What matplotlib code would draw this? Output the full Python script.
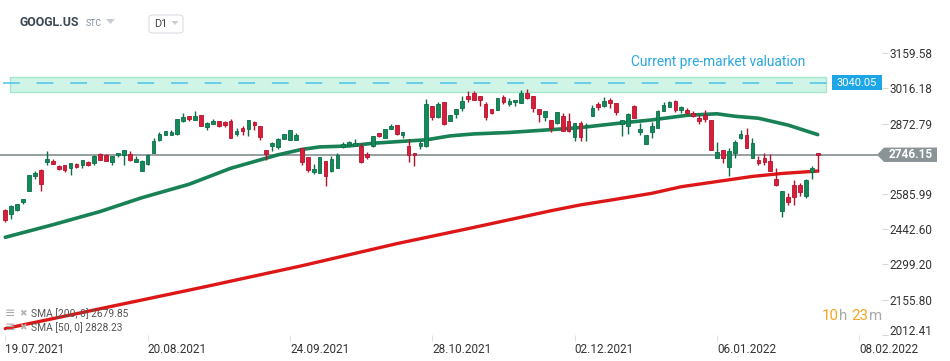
import matplotlib
matplotlib.use('Agg')
import matplotlib.pyplot as plt
import matplotlib.transforms as mtransforms
from matplotlib.patches import Rectangle, Polygon, FancyBboxPatch

plt.rcParams['font.family'] = ['Roboto', 'DejaVu Sans']

# ---------------- data ----------------
symbol = "GOOGL.US"
market = "STC"
interval = "D1"

opens = [2522.0, 2504.5, 2519.2, 2551.7, 2600.5, 2661.6, 2684.8, 2718.5, 2721.4, 2701.0,
         2703.9, 2694.1, 2709.2, 2706.3, 2717.3, 2714.5, 2748.7, 2744.6, 2718.5, 2745.8,
         2744.6, 2748.7, 2718.5, 2681.9, 2710.4, 2753.9, 2806.8, 2828.4, 2828.4, 2830.0,
         2884.2, 2903.3, 2889.4, 2907.3, 2858.5, 2873.2, 2882.9, 2881.3, 2885.4, 2831.3,
         2855.7, 2850.4, 2881.3, 2863.8, 2766.2, 2782.4, 2777.1, 2810.9, 2806.8, 2806.8,
         2772.3, 2737.7, 2676.6, 2673.8, 2721.4, 2678.7, 2694.1, 2777.1, 2786.5, 2781.2,
         2782.4, 2749.9, 2783.6, 2834.5, 2813.8, 2852.8, 2867.1, 2827.2, 2782.4, 2753.1,
         2783.6, 2780.4, 2945.2, 2901.6, 2960.2, 2885.4, 2912.6, 2938.3, 2985.9, 2996.9,
         2985.9, 2953.3, 2933.0, 2930.1, 2980.6, 2954.5, 2960.2, 2958.6, 2999.3, 2985.9,
         2931.8, 2901.6, 2888.2, 2874.0, 2903.3, 2885.4, 2817.8, 2877.2, 2861.0, 2905.7,
         2953.3, 2945.2, 2969.6, 2956.2, 2872.8, 2865.0, 2946.0, 2840.6, 2789.8, 2838.2,
         2854.4, 2924.8, 2942.3, 2965.5, 2928.9, 2928.9, 2915.5, 2897.6, 2908.6, 2888.2,
         2734.8, 2764.9, 2698.2, 2752.7, 2816.2, 2827.2, 2734.8, 2725.5, 2734.8, 2721.4,
         2648.1, 2515.1, 2572.1, 2623.7, 2623.7, 2580.2, 2675.4, 2752.7]
highs = [2526.1, 2542.4, 2546.4, 2566.8, 2665.6, 2679.5, 2686.8, 2762.1, 2729.5, 2705.1,
         2705.1, 2714.5, 2713.3, 2726.7, 2722.6, 2744.6, 2753.9, 2749.9, 2743.0, 2753.9,
         2766.2, 2762.1, 2743.0, 2724.2, 2751.1, 2815.0, 2839.4, 2843.5, 2846.3, 2892.3,
         2915.5, 2904.5, 2924.8, 2908.6, 2878.9, 2891.1, 2884.2, 2885.4, 2892.3, 2854.4,
         2862.6, 2889.4, 2884.2, 2865.0, 2767.4, 2799.9, 2813.8, 2831.3, 2848.7, 2835.3,
         2774.3, 2738.9, 2709.2, 2738.9, 2722.6, 2741.7, 2753.9, 2798.7, 2802.8, 2810.1,
         2792.6, 2759.2, 2824.3, 2836.5, 2852.8, 2872.8, 2867.9, 2839.4, 2809.7, 2753.9,
         2802.8, 2973.7, 2946.4, 2960.6, 2961.5, 2909.8, 2934.2, 2985.9, 3007.4, 3007.4,
         2987.1, 2960.2, 2934.2, 2977.7, 2989.9, 2976.5, 2970.8, 3010.3, 3014.4, 2987.1,
         2933.0, 2926.1, 2889.4, 2922.0, 2915.5, 2915.5, 2876.0, 2884.2, 2874.8, 2949.3,
         2960.2, 2980.6, 2976.5, 2957.4, 2888.2, 2915.5, 2950.5, 2874.8, 2828.4, 2878.9,
         2928.9, 2962.7, 2966.8, 2969.6, 2946.4, 2935.8, 2926.1, 2908.6, 2928.9, 2889.4,
         2797.5, 2766.2, 2773.1, 2806.8, 2847.5, 2856.9, 2813.8, 2743.0, 2755.2, 2748.7,
         2691.7, 2599.3, 2590.0, 2644.1, 2633.1, 2648.1, 2702.3, 2753.9]
lows = [2470.3, 2485.4, 2517.9, 2547.6, 2596.5, 2646.9, 2600.5, 2706.3, 2709.2, 2684.8,
        2677.9, 2665.6, 2692.9, 2694.1, 2701.0, 2706.3, 2725.5, 2721.4, 2706.3, 2738.9,
        2706.3, 2722.6, 2717.3, 2680.7, 2706.3, 2752.7, 2804.0, 2827.2, 2827.2, 2828.4,
        2881.3, 2885.4, 2888.2, 2863.8, 2848.7, 2871.9, 2861.0, 2861.0, 2815.0, 2824.3,
        2827.2, 2824.3, 2847.5, 2806.8, 2725.5, 2762.1, 2771.4, 2809.7, 2805.6, 2805.6,
        2705.1, 2677.9, 2667.3, 2672.6, 2620.5, 2677.4, 2691.7, 2773.1, 2785.3, 2780.4,
        2714.5, 2730.3, 2776.3, 2817.0, 2812.9, 2851.6, 2828.0, 2813.8, 2718.5, 2701.9,
        2768.2, 2779.6, 2888.2, 2894.3, 2867.9, 2884.2, 2895.1, 2926.1, 2962.7, 2969.6,
        2946.4, 2888.2, 2913.9, 2928.9, 2952.1, 2946.4, 2946.4, 2957.4, 2974.9, 2922.0,
        2881.3, 2885.4, 2840.6, 2872.8, 2843.5, 2840.6, 2803.6, 2804.0, 2804.0, 2904.5,
        2928.9, 2942.3, 2935.8, 2908.6, 2823.9, 2832.5, 2894.3, 2827.2, 2788.5, 2813.8,
        2853.6, 2923.6, 2941.1, 2922.0, 2915.5, 2911.4, 2901.6, 2870.7, 2878.9, 2764.9,
        2733.6, 2714.5, 2661.6, 2732.4, 2810.9, 2774.3, 2733.6, 2705.1, 2705.1, 2680.7,
        2620.9, 2490.7, 2542.4, 2539.5, 2580.2, 2569.6, 2646.9, 2674.6]
closes = [2478.5, 2535.4, 2545.2, 2565.5, 2663.2, 2672.6, 2629.0, 2729.5, 2710.4, 2688.8,
          2686.0, 2712.0, 2697.0, 2724.2, 2705.1, 2743.0, 2726.7, 2722.6, 2741.7, 2752.7,
          2764.9, 2724.2, 2729.5, 2722.6, 2745.8, 2802.8, 2832.5, 2842.2, 2839.4, 2891.1,
          2899.2, 2892.3, 2904.5, 2865.0, 2874.8, 2884.2, 2865.0, 2866.7, 2816.2, 2843.5,
          2842.2, 2888.2, 2869.1, 2820.3, 2749.9, 2795.9, 2812.1, 2830.0, 2847.5, 2828.4,
          2718.5, 2684.8, 2688.8, 2737.7, 2661.6, 2729.5, 2743.8, 2791.4, 2796.7, 2793.4,
          2718.5, 2738.9, 2823.1, 2823.9, 2851.6, 2864.6, 2832.5, 2838.2, 2745.8, 2745.8,
          2795.9, 2953.3, 2901.6, 2953.3, 2871.9, 2908.6, 2933.0, 2965.5, 2973.7, 2970.8,
          2969.6, 2901.6, 2915.5, 2976.5, 2962.7, 2966.8, 2969.6, 2999.3, 2976.5, 2938.3,
          2911.4, 2924.8, 2854.4, 2920.8, 2844.7, 2844.7, 2874.8, 2817.8, 2867.9, 2935.8,
          2942.3, 2965.5, 2956.2, 2922.0, 2887.0, 2911.4, 2895.1, 2850.8, 2827.2, 2865.0,
          2924.8, 2949.3, 2962.7, 2928.9, 2942.3, 2917.9, 2904.5, 2884.2, 2892.3, 2766.2,
          2759.2, 2734.8, 2762.1, 2797.5, 2830.0, 2775.5, 2793.4, 2712.0, 2718.5, 2681.9,
          2623.7, 2596.5, 2551.7, 2572.1, 2594.0, 2644.1, 2691.7, 2746.15]

sma50_idx = [0, 8, 16, 23, 31, 38, 46, 50, 53, 58, 62, 67, 71, 75, 79, 85, 93, 97,
             104, 109, 115, 120, 123, 127, 132, 137]
sma50_val = [2410, 2461, 2515, 2571, 2626, 2691, 2746, 2768, 2778, 2782, 2793, 2801, 2807,
             2823, 2831, 2837, 2850, 2857, 2876, 2888, 2907, 2913, 2903, 2895, 2867, 2828.23]
sma200_idx = [0, 16, 33, 50, 66, 78, 92, 97, 103, 109, 114, 120, 126, 131, 137]
sma200_val = [2038, 2119, 2205, 2294, 2384, 2445, 2518, 2542, 2565, 2589, 2616, 2637,
              2658, 2670, 2679.85]

sma200_label = "SMA [200, 0] 2679.85"
sma50_label = "SMA [50, 0] 2828.23"

last_price = 2746.15
premarket_price = 3040.05
premarket_zone = (3000.9, 3061.9)
premarket_text = "Current pre-market valuation"

ytick_vals = [2012.41, 2155.80, 2299.20, 2442.60, 2585.99, 2872.79, 3016.18, 3159.58]
xtick_idx = [0, 24, 48, 72, 96, 120, 144]
xtick_labels = ["19.07.2021", "20.08.2021", "24.09.2021", "28.10.2021",
                "02.12.2021", "06.01.2022", "08.02.2022"]

timer_parts = [("10", "#f5a623"), ("h", "#a9a9a9"), ("23", "#f5a623"), ("m", "#a9a9a9")]

# ---------------- figure ----------------
W, H = 950, 361
fig = plt.figure(figsize=(W / 100, H / 100), dpi=100)
fig.patch.set_facecolor('white')

def fx(px):
    return px / W

def fy(py):
    return 1 - py / H

ax_right = 882
ax_bottom = 335
ax = fig.add_axes([0, fy(ax_bottom), fx(ax_right), ax_bottom / H])
ax.set_xlim(-0.894, 147.84)
ax.set_ylim(2012.0, 3376.5)
for s in ax.spines.values():
    s.set_visible(False)
ax.set_facecolor('none')

GREEN = '#138a5a'
GREEN_EDGE = '#0c6e47'
RED = '#d81e3a'
RED_EDGE = '#b5132c'

# pre-market zone
zone_w_end = (826 - 5.3) / 5.93
zone_w_start = (10 - 5.3) / 5.93
ax.add_patch(Rectangle((zone_w_start, premarket_zone[0]), zone_w_end - zone_w_start,
                       premarket_zone[1] - premarket_zone[0],
                       facecolor='#d0f4e6', edgecolor='#a3e6cc', lw=1.0, zorder=1))
ax.axhline(premarket_price, xmin=fx(3) / fx(ax_right), xmax=832 / ax_right,
           color='#4cc3ea', lw=1.1, dashes=(11, 11), zorder=2)
ax.text(zone_w_end - 3.5, 3124, premarket_text, color='#2ba8e0', fontsize=9.9,
        ha='right', va='center', zorder=5)

# last price line
ax.axhline(last_price, xmin=0, xmax=877 / ax_right, color='#8d9699', lw=1.3, zorder=2)

# moving averages
ax.plot(sma50_idx, sma50_val, color='#0b7a4c', lw=2.6, solid_capstyle='round', zorder=3, alpha=0.95)
ax.plot(sma200_idx, sma200_val, color='#dc0a0a', lw=2.4, solid_capstyle='round', zorder=3, alpha=0.95)

# candles
for i, (o, h, l, c) in enumerate(zip(opens, highs, lows, closes)):
    up = c >= o
    col = GREEN if up else RED
    ec = GREEN_EDGE if up else RED_EDGE
    ax.vlines(i, l, h, color=ec, lw=1.0, zorder=4)
    lo, hi = min(o, c), max(o, c)
    if hi - lo < 4:
        mid = (hi + lo) / 2
        lo, hi = mid - 2, mid + 2
    ax.add_patch(Rectangle((i - 0.31, lo), 0.62, hi - lo, facecolor=col,
                           edgecolor=ec, lw=0.6, zorder=5))

# y axis on right
ax.yaxis.tick_right()
ax.set_yticks(ytick_vals)
ax.set_yticklabels([f"{v:.2f}" for v in ytick_vals])
ax.tick_params(axis='y', length=4, width=0.8, color='#d8d8d8', labelsize=8.5,
               labelcolor='#333333', pad=1.5)
ylabs = ax.get_yticklabels()
ylabs[0].set_transform(ylabs[0].get_transform() +
                       mtransforms.ScaledTranslation(0, 3.5 / 72, fig.dpi_scale_trans))

# x axis
ax.set_xticks(xtick_idx)
ax.set_xticklabels(xtick_labels)
ax.tick_params(axis='x', length=4, width=0.8, color='#e2e2e2', labelsize=8.5,
               labelcolor='#333333', pad=1.5)
for lbl in ax.get_xticklabels():
    lbl.set_ha('left')

# pre-market price box
bt = mtransforms.blended_transform_factory(fig.transFigure, ax.transData)
ph = 7.3 * 4.073
ax.add_patch(Rectangle((fx(832), premarket_price - ph), fx(882) - fx(832), 2 * ph,
                       transform=bt, facecolor='#1ca6e6', edgecolor='none',
                       zorder=6, clip_on=False))
ax.text(fx(857), premarket_price, f"{premarket_price:.2f}", transform=bt, color='white',
        fontsize=8, ha='center', va='center', zorder=7, clip_on=False)

# last price tag
th = 7.2 * 4.073
tag = Polygon([(fx(877), last_price), (fx(884), last_price + th), (fx(937), last_price + th),
               (fx(937), last_price - th), (fx(884), last_price - th)], closed=True,
              transform=bt, facecolor='#8a9396', edgecolor='none', zorder=6, clip_on=False)
ax.add_patch(tag)
ax.text(fx(911), last_price, f"{last_price:.2f}", transform=bt, color='white',
        fontsize=8.5, fontweight='bold', ha='center', va='center', zorder=7, clip_on=False)

# header
fig.text(fx(20), fy(23), symbol, fontsize=8.8, fontweight='bold', color='#3b4751',
         ha='left', va='center')
fig.text(fx(86), fy(24), market, fontsize=6.3, color='#7d8c9a', ha='left', va='center')
fig.patches.append(Polygon([(fx(106), fy(19)), (fx(115), fy(19)), (fx(110.5), fy(24))],
                           closed=True, transform=fig.transFigure, facecolor='#c9cdd1',
                           edgecolor='none'))
fig.patches.append(FancyBboxPatch((fx(149), fy(33)), fx(183) - fx(149), fy(15) - fy(33),
                                  boxstyle='round,pad=0,rounding_size=0.006',
                                  transform=fig.transFigure, facecolor='white',
                                  edgecolor='#dfe2e6', lw=0.9))
fig.text(fx(154), fy(24), interval, fontsize=7.8, color='#444444', ha='left', va='center')
fig.patches.append(Polygon([(fx(171.5), fy(21)), (fx(178.5), fy(21)), (fx(175), fy(25))],
                           closed=True, transform=fig.transFigure, facecolor='#c9cdd1',
                           edgecolor='none'))

# legend of indicators (bottom left)
for yy, lab in [(314, sma200_label), (328, sma50_label)]:
    fig.text(fx(5), fy(yy), "\u2261", fontsize=9, color='#a8a8a8', ha='left', va='center',
             family='DejaVu Sans', zorder=8)
    fig.text(fx(19), fy(yy), "\u2716", fontsize=6.5, color='#b5b5b5', ha='left', va='center',
             family='DejaVu Sans', zorder=8)
    fig.text(fx(31), fy(yy), lab, fontsize=7.4, color='#555555', ha='left', va='center', zorder=8)

# session timer: each part placed right after the previous one
renderer = fig.canvas.get_renderer()
xpos = 822.0
gaps = [0.5, 4.0, 0.5, 0]
for (txt, col), gap in zip(timer_parts, gaps):
    t = fig.text(fx(xpos), fy(316), txt, fontsize=10.8, color=col, ha='left', va='center')
    bb = t.get_window_extent(renderer=renderer)
    xpos = bb.x1 + gap

fig.savefig('out.png', dpi=100, facecolor='white')
